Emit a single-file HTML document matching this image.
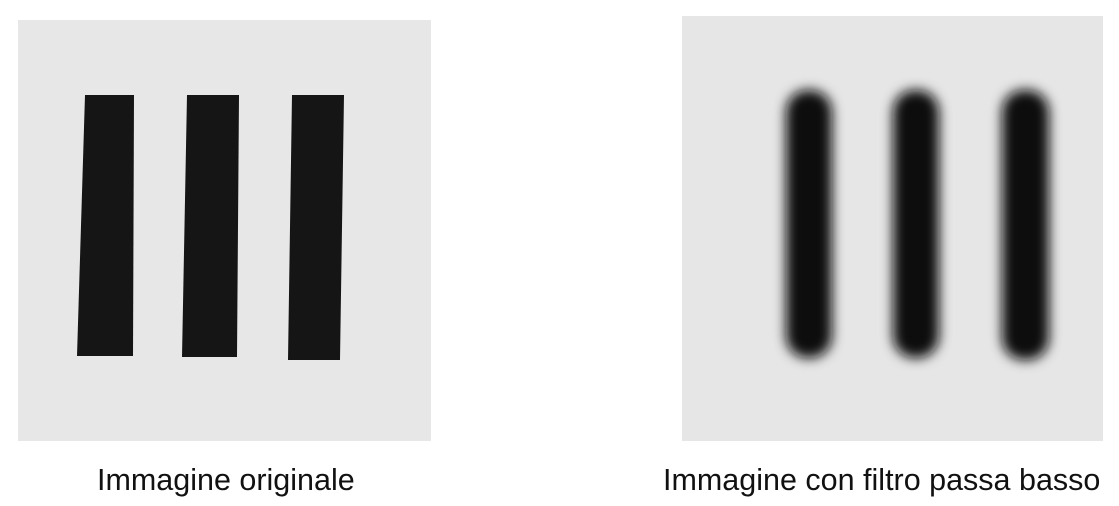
<!DOCTYPE html>
<html><head><meta charset="utf-8"><style>
html,body{margin:0;padding:0;background:#fff;width:1119px;height:506px;overflow:hidden}
.cap{position:absolute;font-family:"Liberation Sans",sans-serif;font-size:30.5px;color:#111;white-space:nowrap}
</style></head><body>
<svg width="1119" height="506" style="position:absolute;left:0;top:0">
<defs><filter id="blur" x="-50%" y="-20%" width="200%" height="140%"><feGaussianBlur stdDeviation="6"/></filter></defs>
<g>
<rect x="18" y="20" width="413" height="421" fill="#e7e7e7"/>
<polygon points="85,95 134,95 133,356 77,356" fill="#151515"/>
<polygon points="187,95 239,95 237,357 182,357" fill="#151515"/>
<polygon points="292,95 344,95 340,360 288,360" fill="#151515"/>
</g>
<g>
<rect x="682" y="16" width="421" height="425" fill="#e6e6e6"/>
<g filter="url(#blur)">
<rect x="786" y="90" width="46" height="268" rx="22" fill="#111"/>
<rect x="893" y="90" width="46" height="268" rx="22" fill="#111"/>
<rect x="1002" y="90" width="47" height="270" rx="22" fill="#111"/>
</g>
</g>
</svg>
<div class="cap" style="left:97px;top:463px">Immagine originale</div>
<div class="cap" style="left:663px;top:463px">Immagine con filtro passa basso</div>
</body></html>
